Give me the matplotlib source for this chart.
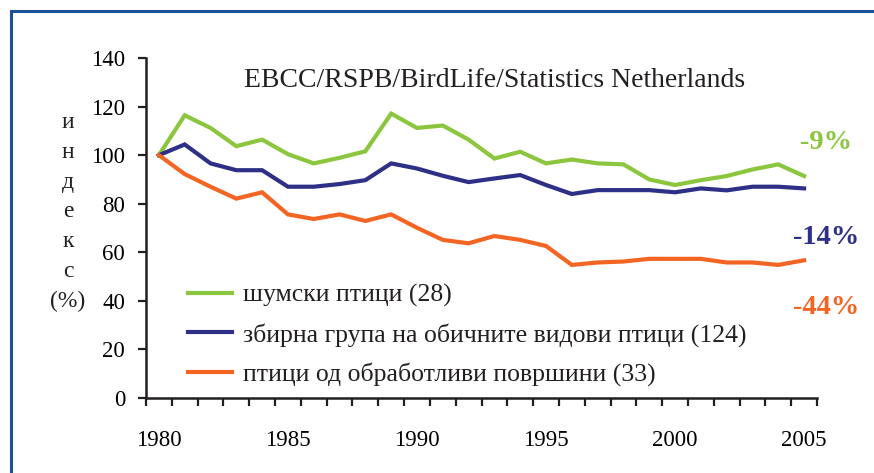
import numpy as np
import matplotlib
matplotlib.use("Agg")
import matplotlib.pyplot as plt
from matplotlib.patches import Rectangle

plt.rcParams['font.family'] = ['Liberation Serif', 'DejaVu Serif']

# data (index, 1980 = 100)
years = np.arange(1980, 2006)
forest = [100, 116.4, 111.2, 103.7, 106.4, 100.4, 96.6, 98.9, 101.6, 117.1,
          111.2, 112.2, 106.4, 98.6, 101.4, 96.6, 98.2, 96.6, 96.2, 90.0,
          87.7, 89.7, 91.4, 94.1, 96.2, 91.4]
common = [100, 104.4, 96.6, 93.8, 93.8, 87.0, 87.0, 88.1, 89.7, 96.6,
          94.5, 91.5, 88.9, 90.4, 91.8, 87.7, 84.0, 85.6, 85.6, 85.6,
          84.7, 86.3, 85.5, 87.0, 87.0, 86.3]
farmland = [100, 92.2, 87.0, 82.1, 84.7, 75.6, 73.7, 75.6, 72.9, 75.6,
            70.1, 65.1, 63.7, 66.7, 65.1, 62.6, 54.8, 55.8, 56.2, 57.3,
            57.3, 57.3, 55.8, 55.8, 54.8, 56.7]

labels = ['шумски птици (28)',
          'збирна група на обичните видови птици (124)',
          'птици од обработливи површини (33)']
changes = ['-9%', '-14%', '-44%']
colors = ['#8cc63f', '#2e3087', '#f26522']
series = [forest, common, farmland]

W, H = 874, 473
fig = plt.figure(figsize=(W / 100, H / 100), dpi=100)
ax = fig.add_axes([146 / W, 1 - 398 / H, (817 - 146) / W, 340 / H])

for vals, lab, col in zip(series, labels, colors):
    ax.plot(years, vals, color=col, lw=3.0, label=lab, solid_joinstyle='miter')

ax.set_xlim(1979.5, 2005.5)
ax.set_ylim(0, 140)
ax.set_yticks(np.arange(0, 141, 20))
ax.set_xticks(np.arange(1980, 2006, 5))
ax.set_xticks(np.arange(1979.5, 2006, 1), minor=True)
ax.tick_params(axis='x', which='major', length=0, pad=23, labelsize=16.5)
ax.tick_params(axis='x', which='minor', length=6, width=1.6, direction='out', color='#231f20')
ax.tick_params(axis='y', length=6, width=1.6, direction='out', pad=9, labelsize=16.5, color='#231f20')
for s in ['top', 'right']:
    ax.spines[s].set_visible(False)
for s in ['left', 'bottom']:
    ax.spines[s].set_linewidth(1.8)
    ax.spines[s].set_color('#231f20')

ax.text(0.52, 0.935, 'EBCC/RSPB/BirdLife/Statistics Netherlands',
        transform=ax.transAxes, ha='center', va='center', fontsize=20, color='#231f20')

leg = ax.legend(loc='upper left', bbox_to_anchor=(188 / W, 1 - 284 / H),
                bbox_transform=fig.transFigure, frameon=False, fontsize=18.5,
                handlelength=1.71, handletextpad=0.43, labelspacing=0.6, borderpad=0,
                borderaxespad=0)
for t in leg.get_texts():
    t.set_color('#231f20')

ypos = [142, 237, 307]
for txt, col, yp in zip(changes, colors, ypos):
    fig.text(826 / W, 1 - yp / H, txt, color=col, fontsize=20.5, fontweight='bold',
             ha='center', va='center')

fig.text(68 / W, 1 - 212 / H, 'и\nн\nд\nе\nк\nс\n(%)', ha='center', va='center',
         fontsize=17, linespacing=1.55, color='#231f20')

# blue frame around the chart
fig.patches.append(Rectangle((11 / W, -0.1), 2, 1 - 11 / H + 0.1, transform=fig.transFigure,
                             fill=False, edgecolor='#1d4f9c', lw=2.2))

fig.savefig('out.png', dpi=100)
